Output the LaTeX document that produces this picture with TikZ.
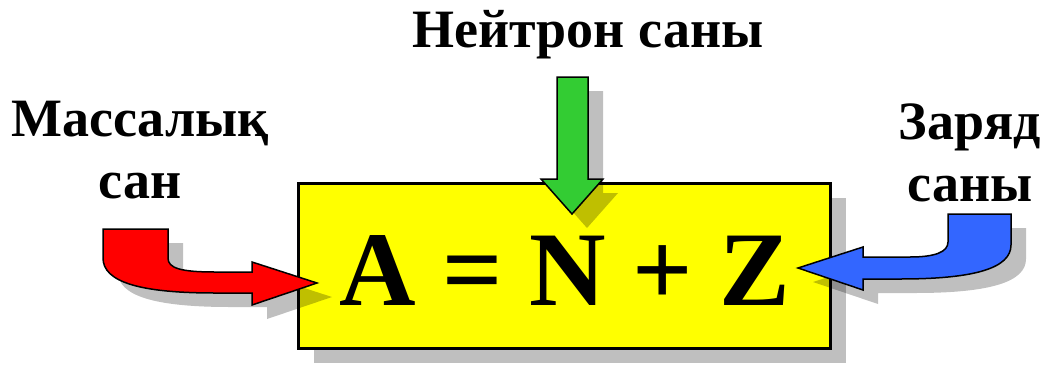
\documentclass[tikz,border=0pt]{standalone}
\usepackage{fontspec}
\setmainfont{Liberation Serif}
\usetikzlibrary{shadows}
\definecolor{formulayellow}{RGB}{255,255,0}
\definecolor{arrowred}{RGB}{255,0,0}
\definecolor{arrowgreen}{RGB}{51,204,51}
\definecolor{arrowblue}{RGB}{51,102,255}

\begin{document}
\begin{tikzpicture}[x=1pt,y=-1pt,
  sidetext/.style={inner sep=0pt,align=center,font=\fontsize{54}{62}\selectfont\bfseries},
  grayshadow/.style={drop shadow={shadow xshift=15pt,shadow yshift=-14pt,fill=black,opacity=0.25}},
  blockarrow/.style={draw=black,line width=1.5pt,line join=miter,grayshadow}]
\useasboundingbox (0,0) rectangle (1046,364);

% formula box
\node[draw=black,line width=3.5pt,fill=formulayellow,grayshadow,
  minimum width=532pt,minimum height=165pt,inner sep=0pt,
  font=\fontsize{106}{110}\selectfont\bfseries,text height=78pt,text depth=0pt]
  (formula) at (564.5,266) {A = N + Z};

% captions
\node[sidetext,anchor=base] (neutron) at (588,47) {Нейтрон саны};
\node[sidetext,anchor=north] (mass) at (140,101) {Массалық\\сан};
\node[sidetext,anchor=north] (charge) at (970,104) {Заряд\\саны};

% arrows into the box
\draw[blockarrow,fill=arrowred] (103,229) -- (168,229) -- (168,258)
  .. controls (168,268) and (180,272) .. (215,272) -- (252,272) -- (252,262)
  -- (317,283) -- (252,305) -- (252,293) -- (215,293)
  .. controls (140,293) and (103,282) .. (103,258) -- cycle;
\draw[blockarrow,fill=arrowgreen] (557,77) -- (588,77) -- (588,179) -- (603,179)
  -- (572,214) -- (541,179) -- (557,179) -- cycle;
\draw[blockarrow,fill=arrowblue] (948,214) -- (1011,214) -- (1011,245)
  .. controls (1011,268) and (975,279) .. (900,279) -- (863,279) -- (863,290)
  -- (798,268) -- (863,247) -- (863,257) -- (910,257)
  .. controls (935,257) and (948,252) .. (948,242) -- cycle;
\end{tikzpicture}
\end{document}
